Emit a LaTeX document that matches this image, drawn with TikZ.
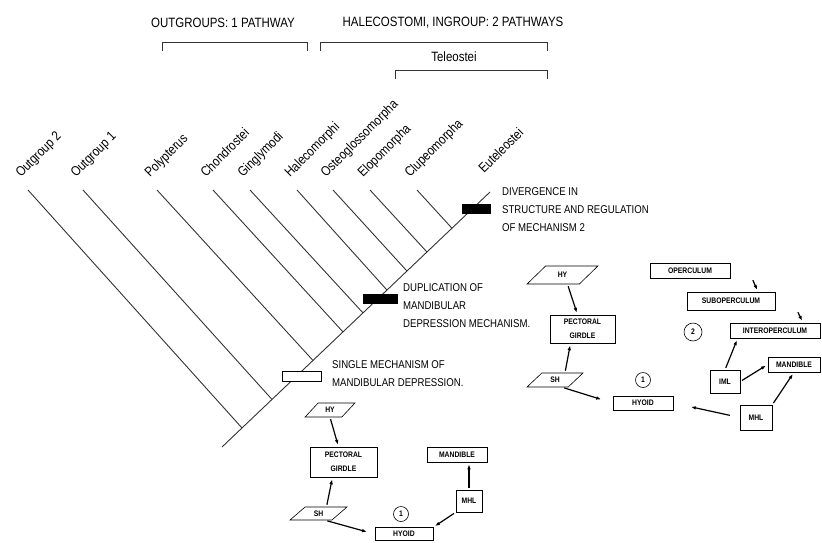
\documentclass[tikz,border=0pt]{standalone}
\usepackage{fontspec}
\newfontfamily\lett[FakeStretch=0.85]{Liberation Sans}
\usetikzlibrary{arrows.meta,shapes.geometric,calc}

\begin{document}
\begin{tikzpicture}[
    x=1pt, y=-1pt,
    box/.style={
        rectangle,
        draw,
        line width=0.6pt,
        inner sep=1pt,
        align=center,
        font=\lett\fontsize{8}{14}\selectfont\bfseries
    },
    para/.style={
        trapezium,
        trapezium left angle=50,
        trapezium right angle=130,
        trapezium stretches=true,
        draw,
        line width=0.6pt,
        inner sep=1pt,
        font=\lett\fontsize{8}{10}\selectfont\bfseries
    },
    arrow/.style={
        -{Latex[length=5pt,width=3.6pt]},
        line width=1.2pt,
        shorten <=2pt,
        shorten >=2pt
    },
    num/.style={circle, draw, line width=0.6pt, inner sep=0pt,
        minimum size=15pt, font=\lett\fontsize{8}{10}\selectfont\bfseries},
    taxon/.style={rotate=45, anchor=base west, inner sep=0pt,
        font=\lett\fontsize{13.5}{16}\selectfont},
    note/.style={anchor=north west, align=left, inner sep=0pt,
        font=\lett\fontsize{11.3}{18}\selectfont},
    head/.style={inner sep=0pt, font=\lett\fontsize{13.5}{16}\selectfont},
    bar/.style={rectangle, draw, line width=0.6pt, inner sep=0pt,
        minimum width=#1, minimum height=9pt},
    branch/.style={line width=0.9pt, black!80}
]

\useasboundingbox (0,0) rectangle (822,542);

\def\tipy{190}
\def\labely{178}

%% ===== HEADINGS =====
\node[head] (outhead) at (223,23) {OUTGROUPS: 1 PATHWAY};
\node[head] (inhead) at (453,23) {HALECOSTOMI, INGROUP: 2 PATHWAYS};
\node[head] (telhead) at (454,57) {Teleostei};

\draw[branch, line width=0.6pt] (162,51) -- (162,42) -- (307,42) -- (307,51);
\draw[branch, line width=0.6pt] (320,51) -- (320,42) -- (547,42) -- (547,51);
\draw[branch, line width=0.6pt] (395,79) -- (395,70) -- (547,70) -- (547,79);

%% ===== CLADOGRAM =====
\coordinate (root) at (222,447);
\coordinate (crown) at (490,192);
\draw[branch] (root) -- (crown);

\foreach \tx/\jx/\nm [count=\i] in {
    28/242/Outgroup 2,
    83/272/Outgroup 1,
    157/313/Polypterus,
    213/343/Chondrostei,
    250/363/Ginglymodi,
    297/387/Halecomorphi,
    333/407/Osteoglossomorpha,
    370/427/Elopomorpha,
    417/452/Clupeomorpha} {
  \coordinate (j\i) at ({\jx},{447-0.951*(\jx-222)});
  \draw[branch] (\tx,\tipy) -- (j\i);
  \node[taxon] (t\i) at (\tx-7,\labely) {\nm};
}
\node[taxon] (t10) at (484,174) {Euteleostei};

% character bars on the stem
\node[bar=28pt, fill=black] (divbar) at (476,209) {};
\node[bar=34pt, fill=black] (dupbar) at (380,299) {};
\node[bar=39pt, fill=white, minimum height=10pt] (sglbar) at (302,376) {};

\node[note] (divnote) at (502,187)
  {DIVERGENCE IN\\STRUCTURE AND REGULATION\\OF MECHANISM 2};
\node[note] (dupnote) at (403,283)
  {DUPLICATION OF\\MANDIBULAR\\DEPRESSION MECHANISM.};
\node[note] (sglnote) at (332,360)
  {SINGLE MECHANISM OF\\MANDIBULAR DEPRESSION.};

%% ===== MECHANISM 1 (SINGLE) =====
\node[para, minimum width=50pt, minimum height=14pt] (hy1) at (330,410) {HY};
\node[box, minimum width=67pt, minimum height=30pt] (girdle1) at (343.5,462)
  {PECTORAL\\GIRDLE};
\node[para, minimum width=57pt, minimum height=13pt] (sh1) at (318.5,513.5) {SH};
\node[box, minimum width=58pt, minimum height=13pt] (hyoid1) at (404,534) {HYOID};
\node[num] (one1) at (401,514) {1};
\node[box, minimum width=60pt, minimum height=15pt] (mand1) at (457,454.5) {MANDIBLE};
\node[box, minimum width=26pt, minimum height=22pt] (mhl1) at (469,501) {MHL};

\draw[arrow] (hy1.south) -- ([xshift=-5pt]girdle1.north);
\draw[arrow] ([xshift=8pt]sh1.north) -- ([xshift=-11pt]girdle1.south);
\draw[arrow, shorten >=8pt] (sh1.south east) -- (hyoid1.west);
\draw[arrow] (mhl1.north) -- (mhl1.north |- mand1.south);
\draw[arrow] (mhl1.south west) -- (hyoid1.north east);

%% ===== MECHANISM 2 (DUPLICATED) =====
\node[para, minimum width=71pt, minimum height=18pt] (hy2) at (562.5,275) {HY};
\node[box, minimum width=65pt, minimum height=28pt] (girdle2) at (582.5,329)
  {PECTORAL\\GIRDLE};
\node[para, minimum width=56pt, minimum height=14pt] (sh2) at (555,380) {SH};
\node[box, minimum width=60pt, minimum height=14pt] (hyoid2) at (643,403) {HYOID};
\node[num] (one2) at (643,380) {1};
\node[box, minimum width=80pt, minimum height=15pt] (oper2) at (690,270.5) {OPERCULUM};
\node[box, minimum width=88pt, minimum height=18pt] (subop2) at (731,301) {SUBOPERCULUM};
\node[box, minimum width=90pt, minimum height=15pt] (interop2) at (775,330.5) {INTEROPERCULUM};
\node[num, minimum size=18pt] (two2) at (693,332) {2};
\node[box, minimum width=30pt, minimum height=23pt] (iml2) at (725,381.5) {IML};
\node[box, minimum width=52pt, minimum height=15pt] (mand2) at (794,364.5) {MANDIBLE};
\node[box, minimum width=32pt, minimum height=25pt] (mhl2) at (756,417.5) {MHL};

\draw[arrow] ([xshift=5pt]hy2.south) -- ([xshift=-5pt]girdle2.north);
\draw[arrow] ([xshift=10pt]sh2.north) -- ([xshift=-12pt]girdle2.south);
\draw[arrow, shorten >=12pt] (sh2.south east) -- (hyoid2.west);
\draw[arrow, shorten <=10pt, shorten >=18pt] (mhl2.west) -- (hyoid2.east);
\draw[arrow] (mhl2.north east) -- (mand2.south);
\draw[arrow] (iml2.east) -- (mand2.west);
\draw[arrow] (iml2.north) -- ([xshift=8pt]interop2.south west);
\draw[arrow] ([xshift=62pt]oper2.south) -- ([xshift=27pt]subop2.north);
\draw[arrow] ([xshift=66pt]subop2.south) -- ([xshift=28pt]interop2.north);

\end{tikzpicture}
\end{document}
